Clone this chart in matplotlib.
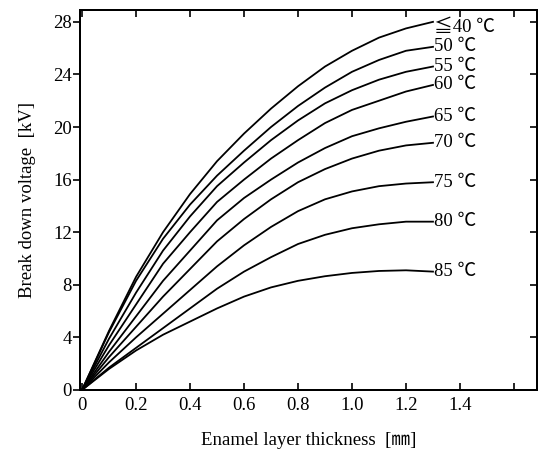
import numpy as np
import matplotlib
matplotlib.use("Agg")
import matplotlib.pyplot as plt

plt.rcParams['font.family'] = ['Liberation Serif', 'Noto Sans CJK JP', 'DejaVu Serif']

# thickness [mm]
thickness = [0.0, 0.1, 0.2, 0.3, 0.4, 0.5, 0.6, 0.7, 0.8, 0.9, 1.0, 1.1, 1.2, 1.3]

# break down voltage [kV] for each temperature
v_40 = [0, 4.5, 8.6, 12.0, 14.9, 17.4, 19.5, 21.4, 23.1, 24.6, 25.8, 26.8, 27.5, 28.0]
v_50 = [0, 4.4, 8.3, 11.5, 14.1, 16.3, 18.2, 20.0, 21.6, 23.0, 24.2, 25.1, 25.8, 26.1]
v_55 = [0, 3.9, 7.4, 10.6, 13.2, 15.5, 17.3, 19.0, 20.5, 21.8, 22.8, 23.6, 24.2, 24.6]
v_60 = [0, 3.4, 6.5, 9.6, 12.0, 14.3, 16.0, 17.6, 19.0, 20.3, 21.3, 22.0, 22.7, 23.2]
v_65 = [0, 2.9, 5.6, 8.3, 10.6, 12.9, 14.6, 16.0, 17.3, 18.4, 19.3, 19.9, 20.4, 20.8]
v_70 = [0, 2.5, 4.8, 7.1, 9.2, 11.3, 13.0, 14.5, 15.8, 16.8, 17.6, 18.2, 18.6, 18.8]
v_75 = [0, 2.1, 4.0, 5.8, 7.6, 9.4, 11.0, 12.4, 13.6, 14.5, 15.1, 15.5, 15.7, 15.8]
v_80 = [0, 1.7, 3.2, 4.7, 6.2, 7.7, 9.0, 10.1, 11.1, 11.8, 12.3, 12.6, 12.8, 12.8]
v_85 = [0, 1.6, 3.0, 4.2, 5.2, 6.2, 7.1, 7.8, 8.3, 8.65, 8.9, 9.05, 9.1, 9.0]

series = [v_40, v_50, v_55, v_60, v_65, v_70, v_75, v_80, v_85]
labels = ["≦40 ℃", "50 ℃", "55 ℃", "60 ℃", "65 ℃", "70 ℃", "75 ℃", "80 ℃", "85 ℃"]

xticks = [0, 0.2, 0.4, 0.6, 0.8, 1.0, 1.2, 1.4, 1.6]
xticklabels = ["0", "0.2", "0.4", "0.6", "0.8", "1.0", "1.2", "1.4", ""]
yticks = [0, 4, 8, 12, 16, 20, 24, 28]

fig = plt.figure(figsize=(5.38, 4.55), dpi=100)
ax = fig.add_axes([0.149, 0.143, 0.849, 0.835])

for v, lab in zip(series, labels):
    ax.plot(thickness, v, color="black", lw=1.3)
    # top label sits a little under its curve end
    dy = -4 if lab.startswith("≦") else 0
    ax.annotate(lab, (thickness[-1], v[-1]), xytext=(1, dy), textcoords="offset points",
                fontsize=13.5, va="center", ha="left")

ax.set_xlim(-0.007, 1.685)
ax.set_ylim(0, 28.9)
ax.set_xticks(xticks)
ax.set_xticklabels(xticklabels, fontsize=13.5)
ax.set_yticks(yticks)
ax.set_yticklabels([str(t) for t in yticks], fontsize=13.5)

ax.tick_params(axis="y", direction="out", length=5, width=1.2, pad=1)
ax.tick_params(axis="x", direction="in", length=5, width=1.2, top=True, pad=5)

# right side ticks point inward
ax_r = ax.twinx()
ax_r.set_ylim(ax.get_ylim())
ax_r.set_yticks(yticks)
ax_r.tick_params(axis="y", direction="in", length=5, width=1.2, labelright=False)

for a in (ax, ax_r):
    for s in a.spines.values():
        s.set_linewidth(1.4)

ax.set_xlabel("Enamel layer thickness  [㎜]", fontsize=13.5, labelpad=13)
ax.set_ylabel("Break down voltage  [kV]", fontsize=13.5, labelpad=12)

fig.savefig("out.png", dpi=100)
